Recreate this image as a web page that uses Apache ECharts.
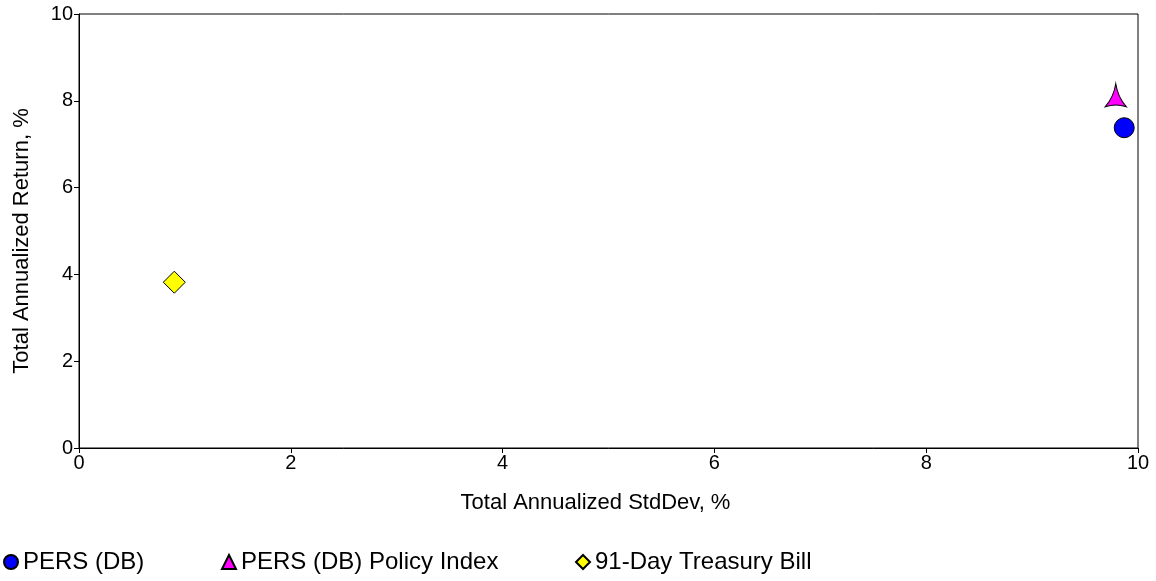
<!DOCTYPE html>
<html><head><meta charset="utf-8">
<script src="https://cdn.jsdelivr.net/npm/echarts@6/dist/echarts.min.js"></script>
<style>html,body{margin:0;padding:0;background:#fff}#c{width:1156px;height:581px}</style>
</head><body><div id="c"></div>
<script>
const seriesNames = ['PERS (DB)', 'PERS (DB) Policy Index', '91-Day Treasury Bill'];
const stdDev = [9.87, 9.79, 0.90];
const annReturn = [7.38, 8.13, 3.82];
const xTitle = 'Total Annualized StdDev, %';
const yTitle = 'Total Annualized Return, %';

const colors = ['#0000FF', '#FF00FF', '#FFFF00'];
const triPath = 'path://M10,0 Q12,13 20,22 Q10,19 0,22 Q8,13 10,0 Z';
const symbols = ['circle', triPath, 'diamond'];
const sizes = [20, [21, 23], 22];
const legendIcons = ['circle', 'triangle', 'diamond'];
const legendLeft = [3, 221, 575];

const chart = echarts.init(document.getElementById('c'));
const font = 'Liberation Sans, Arial, sans-serif';
chart.setOption({
  animation: false,
  grid: {left: 79, right: 18, top: 14, bottom: 133, show: true, borderColor: '#000', borderWidth: 1},
  xAxis: {
    type: 'value', min: 0, max: 10, interval: 2,
    name: xTitle, nameLocation: 'middle', nameGap: 44,
    nameTextStyle: {fontFamily: font, fontSize: 22, color: '#000', padding: [0, 26, 0, 0]},
    axisLine: {show: true, onZero: false, lineStyle: {color: '#000'}},
    axisTick: {show: true, length: 5, lineStyle: {color: '#000'}},
    axisLabel: {fontFamily: font, fontSize: 20, color: '#000', margin: 5},
    splitLine: {show: false}
  },
  yAxis: {
    type: 'value', min: 0, max: 10, interval: 2,
    name: yTitle, nameLocation: 'middle', nameGap: 46,
    nameTextStyle: {fontFamily: font, fontSize: 22, color: '#000', padding: [0, 20, 0, 0]},
    axisLine: {show: true, onZero: false, lineStyle: {color: '#000'}},
    axisTick: {show: true, length: 5, lineStyle: {color: '#000'}},
    axisLabel: {fontFamily: font, fontSize: 20, color: '#000', margin: 6},
    splitLine: {show: false}
  },
  legend: seriesNames.map((n, i) => ({
    data: [{name: n, icon: legendIcons[i]}],
    left: legendLeft[i], top: 550, padding: 0,
    itemWidth: 14, itemHeight: 14, itemGap: 0, itemTextGap: 5,
    selectedMode: false,
    textStyle: {fontFamily: font, fontSize: 24, color: '#000'}
  })),
  series: seriesNames.map((n, i) => ({
    name: n, type: 'scatter',
    data: [[stdDev[i], annReturn[i]]],
    symbol: symbols[i], symbolSize: sizes[i],
    itemStyle: {color: colors[i], borderColor: '#000', borderWidth: 1, opacity: 1},
    z: 3 - i
  }))
});
</script></body></html>
